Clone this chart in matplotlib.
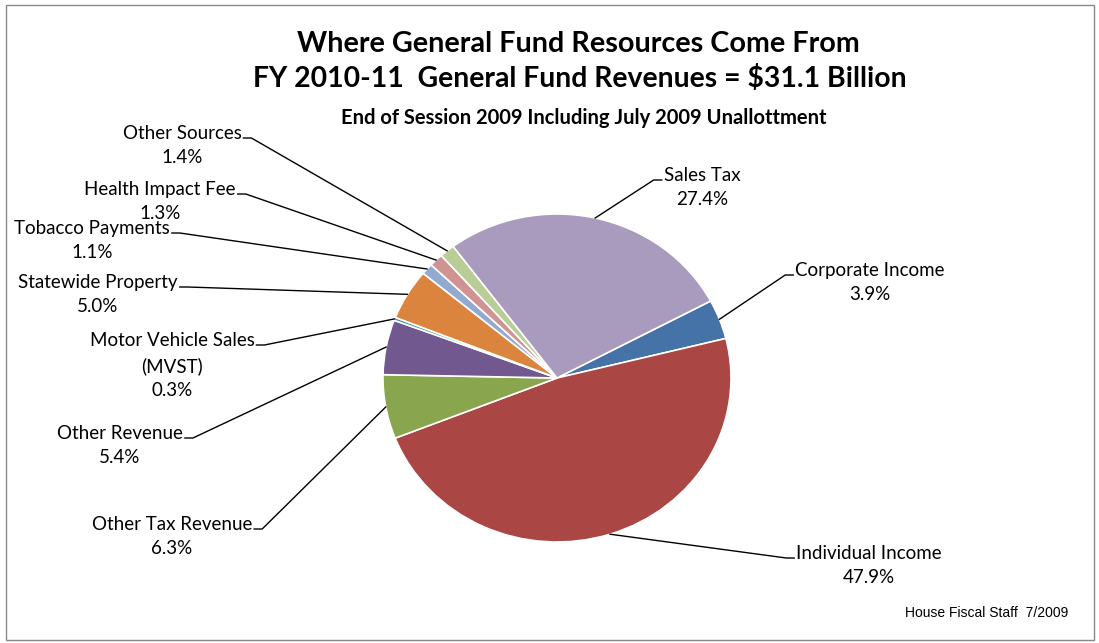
import numpy as np
import matplotlib.pyplot as plt
from matplotlib.patches import Rectangle

# data, in the order the slices are drawn (clockwise)
categories = ['Corporate Income', 'Individual Income', 'Other Tax Revenue', 'Other Revenue',
              'Motor Vehicle Sales\n(MVST)', 'Statewide Property', 'Tobacco Payments',
              'Health Impact Fee', 'Other Sources', 'Sales Tax']
shares = [3.9, 47.9, 6.3, 5.4, 0.3, 5.0, 1.1, 1.3, 1.4, 27.4]
colors = ['#4572A7', '#AA4643', '#89A54E', '#71588F', '#3D96AE', '#DB843D',
          '#93A9CF', '#D19392', '#B9CD96', '#A99BBD']

# where each label sits (pixel coords of the label text centre, first line)
label_pos = [(870, 270), (869, 553), (172, 524), (120, 433), (172, 340),
             (98, 282), (92, 228), (160, 189), (182, 133), (702, 175)]
stub_side = ['left', 'left', 'right', 'right', 'right', 'right', 'right', 'right', 'right', 'left']

W, H = 1099, 643
fig = plt.figure(figsize=(W / 100, H / 100), dpi=100)
font = 'Lato'
lab_size = 13.5

# pie axes (slightly elliptical like the original)
cx, cy, rx, ry = 557, 378, 174, 164
ax = fig.add_axes([(cx - rx) / W, 1 - (cy + ry) / H, 2 * rx / W, 2 * ry / H])
wedges, _ = ax.pie(shares, colors=colors, startangle=28, counterclock=False,
                   wedgeprops=dict(edgecolor='white', linewidth=1.2))
ax.set_aspect('auto')
ax.set_xlim(-1, 1)
ax.set_ylim(-1, 1)
ax.axis('off')

# overlay in pixel coordinates for text and leader lines
ov = fig.add_axes([0, 0, 1, 1], zorder=3)
ov.set_xlim(0, W)
ov.set_ylim(H, 0)
ov.axis('off')
ov.patch.set_alpha(0)

ov.add_patch(Rectangle((6, 5), W - 11, H - 8, fill=False, edgecolor='#888888', linewidth=1))

for w, name, val, (tx, ty), side in zip(wedges, categories, shares, label_pos, stub_side):
    mid = np.deg2rad((w.theta1 + w.theta2) / 2)
    px = cx + rx * np.cos(mid)
    py = cy - ry * np.sin(mid)
    ov.text(tx, ty - 8, name + '\n' + f'{val:.1f}%', ha='center', va='top',
            fontsize=lab_size, family=font, linespacing=1.52)
    # short horizontal stub next to the first text line
    first_w = ov.text(0, 0, name.split('\n')[0], fontsize=lab_size, family=font)
    fig.canvas.draw()
    fw = first_w.get_window_extent().width
    first_w.remove()
    if side == 'right':
        sx0 = tx + fw / 2 + 2
        sx1 = sx0 + 8
    else:
        sx0 = tx - fw / 2 - 2
        sx1 = sx0 - 8
    ov.plot([sx0, sx1, px], [ty + 5, ty + 5, py], color='black', linewidth=1)

ov.text(578, 44, 'Where General Fund Resources Come From', ha='center', va='center',
        fontsize=20.7, fontweight='bold', family=font)
ov.text(580, 79, 'FY 2010-11  General Fund Revenues = $31.1 Billion', ha='center', va='center',
        fontsize=20.4, fontweight='bold', family=font)
ov.text(584, 118, 'End of Session 2009 Including July 2009 Unallottment', ha='center', va='center',
        fontsize=14.5, fontweight='bold', family=font)
ov.text(1068, 613, 'House Fiscal Staff  7/2009', ha='right', va='center',
        fontsize=10, family='Liberation Sans')

fig.savefig('out.png', dpi=100)
